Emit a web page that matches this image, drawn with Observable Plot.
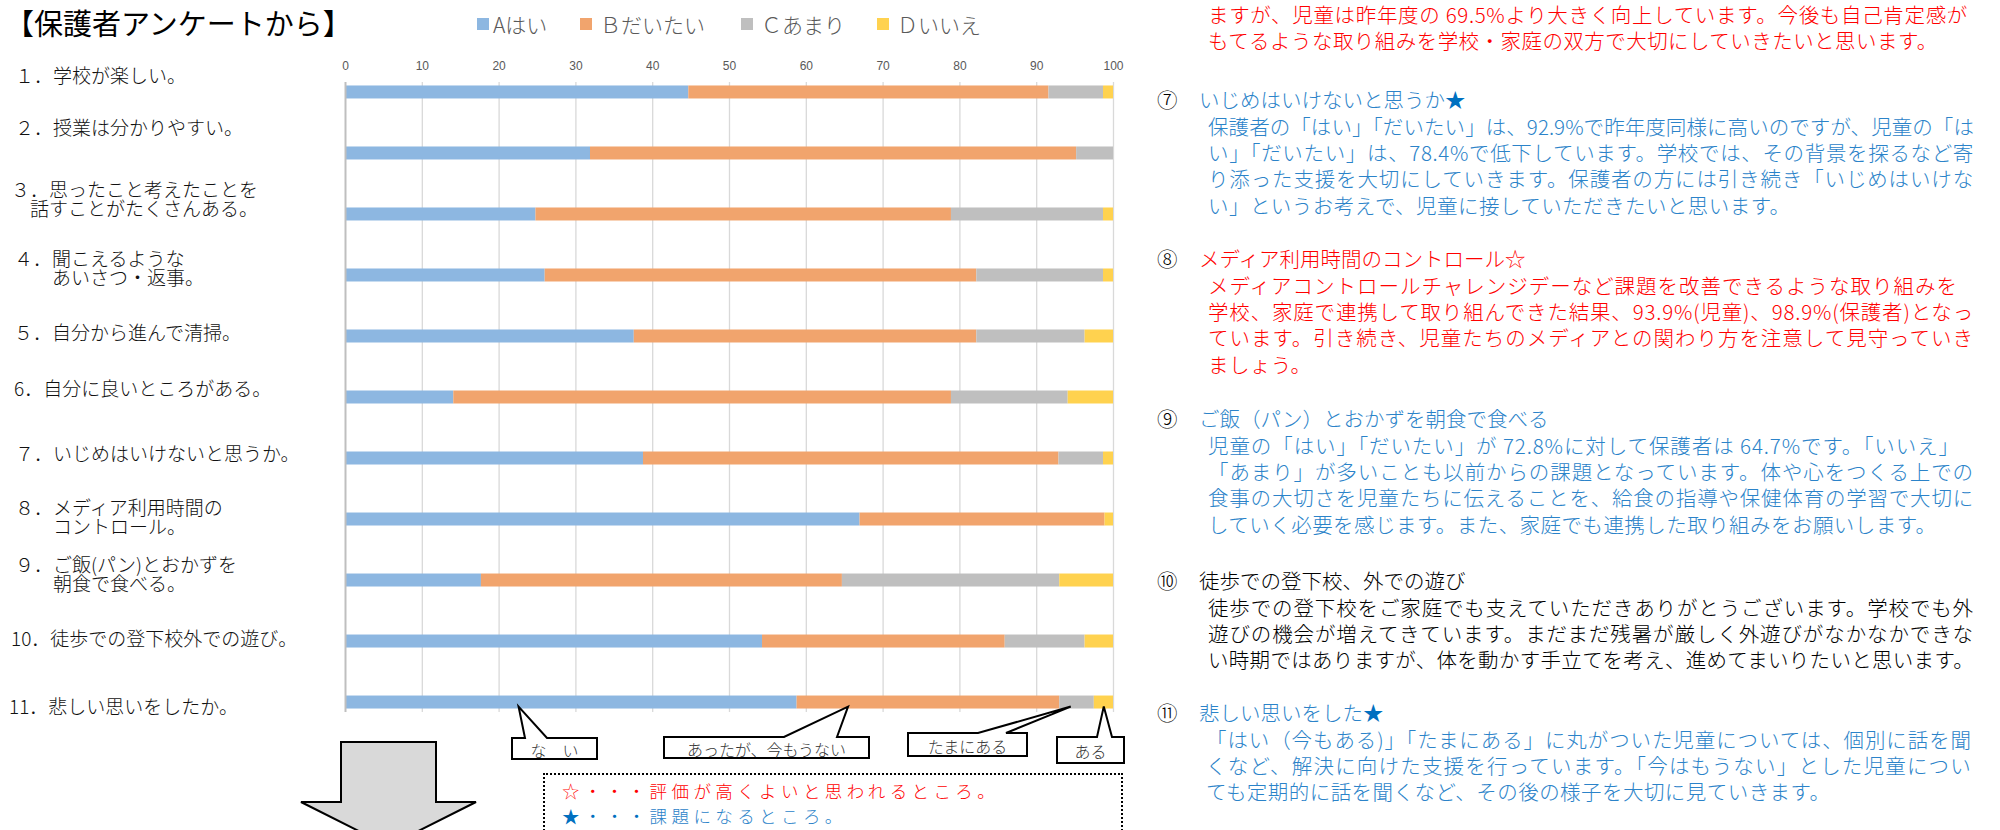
<!DOCTYPE html>
<html lang="ja">
<head>
<meta charset="utf-8">
<script src="https://cdn.jsdelivr.net/npm/d3@7"></script>
<script src="https://cdn.jsdelivr.net/npm/@observablehq/plot@0.6"></script>
<style>
html,body{margin:0;padding:0;background:#fff}
#page{position:relative;width:2000px;height:830px;overflow:hidden;font-family:"Noto Sans CJK JP","Noto Sans",sans-serif;color:#000}
.abs{position:absolute;white-space:nowrap}
#title{left:5px;top:2px;font-size:29px;line-height:40px;font-weight:400}
.legsq{position:absolute;width:12px;height:12px;top:18px}
.legtx{position:absolute;top:11px;font-size:21px;line-height:26px;color:#595959;white-space:nowrap;font-weight:300}
.qlab{position:absolute;font-size:19px;line-height:19px;white-space:pre;color:#111;font-weight:300}
.nl{position:absolute;font-size:20.5px;line-height:25px;height:25px;white-space:nowrap;font-weight:300}
#keybox{position:absolute;left:543px;top:773px;width:580px;height:90px;border:2.5px dotted #000;box-sizing:border-box}
.keyl{position:absolute;left:562px;font-size:17.5px;line-height:20px;height:20px;white-space:nowrap;letter-spacing:4.4px;font-weight:300}
</style>
</head>
<body>
<div id="page"></div>
<script>
// ---------- data ----------
const questions = ["1","2","3","4","5","6","7","8","9","10","11"];
const questionLabels = [
  ["１．学校が楽しい。"],
  ["２．授業は分かりやすい。"],
  ["３．思ったこと考えたことを", "話すことがたくさんある。"],
  ["４．聞こえるような", "あいさつ・返事。"],
  ["５．自分から進んで清掃。"],
  ["6．自分に良いところがある。"],
  ["７．いじめはいけないと思うか。"],
  ["８．メディア利用時間の", "コントロール。"],
  ["９．ご飯(パン)とおかずを", "朝食で食べる。"],
  ["10．徒歩での登下校外での遊び。"],
  ["11．悲しい思いをしたか。"]
];
const seriesNames = ["Aはい", "Ｂだいたい", "Ｃあまり", "Ｄいいえ"];
const seriesColors = ["#8DB7E1", "#F1A46D", "#BFBFBF", "#FFD24F"];
const valuesA = [44.7, 31.9, 24.8, 26.0, 37.6, 14.1, 38.8, 67.0, 17.7, 54.3, 58.8];
const valuesB = [46.9, 63.3, 54.1, 56.2, 44.6, 64.8, 54.1, 31.9, 47.0, 31.6, 34.2];
const valuesC = [7.1, 4.8, 19.8, 16.5, 14.1, 15.2, 5.8, 0, 28.3, 10.4, 4.5];
const valuesD = [1.3, 0, 1.3, 1.3, 3.7, 5.9, 1.3, 1.1, 7.0, 3.7, 2.5];
const xTicks = [0, 10, 20, 30, 40, 50, 60, 70, 80, 90, 100];

const titleText = "【保護者アンケートから】";
const calloutLabels = ["な　い", "あったが、今もうない", "たまにある", "ある"];
const calloutValues = [22.6, 65.5, 94.5, 98.8];   // where each pointer touches bar 11
const keyLines = [["☆・・・", "評価が高くよいと思われるところ。"], ["★・・・", "課題になるところ。"]];

const RED = "#FF0000", BLUE = "#2B83C9", DBLUE = "#0070C0", BLACK = "#000000";
const notes = [
  {mark: "", title: "", star: "", color: RED, lines: [
    "ますが、児童は昨年度の 69.5%より大きく向上しています。今後も自己肯定感が",
    "もてるような取り組みを学校・家庭の双方で大切にしていきたいと思います。"]},
  {mark: "⑦", title: "いじめはいけないと思うか", star: "★", color: BLUE, lines: [
    "保護者の「はい」「だいたい」は、92.9%で昨年度同様に高いのですが、児童の「は",
    "い」「だいたい」は、78.4%で低下しています。学校では、その背景を探るなど寄",
    "り添った支援を大切にしていきます。保護者の方には引き続き「いじめはいけな",
    "い」というお考えで、児童に接していただきたいと思います。"]},
  {mark: "⑧", title: "メディア利用時間のコントロール", star: "☆", color: RED, lines: [
    "メディアコントロールチャレンジデーなど課題を改善できるような取り組みを",
    "学校、家庭で連携して取り組んできた結果、93.9%(児童)、98.9%(保護者)となっ",
    "ています。引き続き、児童たちのメディアとの関わり方を注意して見守っていき",
    "ましょう。"]},
  {mark: "⑨", title: "ご飯（パン）とおかずを朝食で食べる", star: "", color: BLUE, lines: [
    "児童の「はい」「だいたい」が 72.8%に対して保護者は 64.7%です。「いいえ」",
    "「あまり」が多いことも以前からの課題となっています。体や心をつくる上での",
    "食事の大切さを児童たちに伝えることを、給食の指導や保健体育の学習で大切に",
    "していく必要を感じます。また、家庭でも連携した取り組みをお願いします。"]},
  {mark: "⑩", title: "徒歩での登下校、外での遊び", star: "", color: BLACK, lines: [
    "徒歩での登下校をご家庭でも支えていただきありがとうございます。学校でも外",
    "遊びの機会が増えてきています。まだまだ残暑が厳しく外遊びがなかなかできな",
    "い時期ではありますが、体を動かす手立てを考え、進めてまいりたいと思います。"]},
  {mark: "⑪", title: "悲しい思いをした", star: "★", color: BLUE, lines: [
    "「はい（今もある)」「たまにある」に丸がついた児童については、個別に話を聞",
    "くなど、解決に向けた支援を行っています。「今はもうない」とした児童につい",
    "ても定期的に話を聞くなど、その後の様子を大切に見ていきます。"]}
];

// ---------- layout (positions only) ----------
const labelPos = [[15,74],[15,126],[11,188],[14,257],[14,331],[14,387],[15,452],[15,506],[15,563],[11,637],[9,705]];
const labelIndent = [0,0,1,2,0,0,0,2,2,0,0];   // second-line indent in full-width spaces
const legendPos = [[477,493],[580,600],[741,761],[877,897]];
const calloutBoxes = [[512,738,597,759,525,547],[664,737,869,758,784,837],[908,733,1027,756,978,1006],[1057,737,1124,763,1097,1112]];
const noteHeadY = [null, 99, 258, 418, 580, 712];
const noteFirstY = [14, 126, 285, 445, 607, 739];
const noteJustify = [[760,0],[766,766,766,0],[750,766,766,0],[752,766,766,0],[766,766,766],[766,766,0]];
const noteLeft = [1208,1208,1208,1208,1208,1206];
const keyY = [790.5, 816];

const page = document.getElementById("page");
function add(cls, styles, text) {
  const d = document.createElement("div");
  d.className = cls;
  Object.assign(d.style, styles);
  if (text != null) d.textContent = text;
  page.appendChild(d);
  return d;
}

// title
add("abs", {}, titleText).id = "title";

// legend
seriesNames.forEach((s, i) => {
  add("legsq", {left: legendPos[i][0] + "px", background: seriesColors[i]});
  add("legtx", {left: legendPos[i][1] + "px"}, s);
});

// question labels (one text block each)
questionLabels.forEach((lines, i) => {
  const [x, y] = labelPos[i];
  const txt = lines.map((t, j) => (j ? "　".repeat(labelIndent[i]) : "") + t).join("\n");
  add("qlab", {left: x + "px", top: (y - 9.5) + "px"}, txt);
});

// ---------- chart ----------
const rows = [];
questions.forEach((q, i) => {
  [valuesA, valuesB, valuesC, valuesD].forEach((arr, j) => {
    rows.push({q, series: seriesNames[j], value: arr[i]});
  });
});

const svgTop = 40;
const chart = Plot.plot({
  width: 1125,
  height: 680,
  marginLeft: 345,
  marginRight: 12,
  marginTop: 42,
  marginBottom: 8,
  style: {fontFamily: '"Liberation Sans Narrow","Liberation Sans",sans-serif', fontSize: "12px", color: "#595959", background: "transparent", overflow: "visible"},
  x: {domain: [0, 100], axis: "top", ticks: xTicks, tickSize: 0, tickPadding: 13, label: null},
  y: {domain: questions, axis: null, paddingInner: 0.787, paddingOuter: 0.057, round: false},
  color: {domain: seriesNames, range: seriesColors},
  marks: [
    Plot.ruleX(xTicks.slice(1), {stroke: "#D9D9D9", strokeWidth: 1.3}),
    Plot.barX(rows, {x: "value", y: "q", fill: "series", order: seriesNames}),
    Plot.ruleX([0], {stroke: "#BFBFBF", strokeWidth: 2})
  ]
});
chart.style.position = "absolute";
chart.style.left = "0px";
chart.style.top = svgTop + "px";
page.appendChild(chart);

// ---------- annotations overlay ----------
const sx = chart.scale("x"), sy = chart.scale("y");
const lastQ = questions[questions.length - 1];
const barTopAbs = sy.apply(lastQ) + svgTop;
const bw = sy.bandwidth;
const tipY = barTopAbs + bw * 0.85;

const ov = d3.create("svg").attr("width", 2000).attr("height", 830)
  .style("position", "absolute").style("left", "0px").style("top", "0px").style("overflow", "visible");

// big down arrow
ov.append("path")
  .attr("d", "M341,742 L436,742 L436,802 L476,802 L388.5,846 L301,802 L341,802 Z")
  .attr("fill", "#D9D9D9").attr("stroke", "#000").attr("stroke-width", 2).attr("stroke-linejoin", "miter");

// callouts
calloutLabels.forEach((t, i) => {
  const [x0, y0, x1, y1, b0, b1] = calloutBoxes[i];
  const tx = sx.apply(calloutValues[i]);
  ov.append("path")
    .attr("d", `M${x0},${y0} L${b0},${y0} L${tx},${tipY} L${b1},${y0} L${x1},${y0} L${x1},${y1} L${x0},${y1} Z`)
    .attr("fill", "#fff").attr("stroke", "#000").attr("stroke-width", 2).attr("stroke-linejoin", "miter");
  ov.append("text")
    .attr("x", (x0 + x1) / 2).attr("y", (y0 + y1) / 2 + 1)
    .attr("text-anchor", "middle").attr("dominant-baseline", "central")
    .attr("font-family", '"Noto Sans CJK JP",sans-serif').attr("font-weight", 300)
    .attr("font-size", 16).attr("fill", "#333").text(t);
});
page.appendChild(ov.node());

// key box
add("", {}, null).id = "keybox";
keyLines.forEach((parts, i) => {
  const d = add("keyl", {top: (keyY[i] - 10) + "px"});
  const a = document.createElement("span");
  a.textContent = parts[0];
  a.style.color = i === 0 ? RED : DBLUE;
  const b = document.createElement("span");
  b.textContent = parts[1];
  b.style.color = i === 0 ? RED : BLUE;
  d.appendChild(a); d.appendChild(b);
});

// ---------- notes (right column) ----------
const justified = [];
notes.forEach((n, k) => {
  if (n.mark) {
    const hy = noteHeadY[k];
    add("nl", {left: "1157px", top: (hy - 12.5) + "px", color: "#000"}, n.mark);
    const h = add("nl", {left: "1199px", top: (hy - 12.5) + "px", color: n.color}, n.title);
    if (n.star) {
      const s = document.createElement("span");
      s.textContent = n.star;
      s.style.color = n.star === "★" ? DBLUE : n.color;
      h.appendChild(s);
    }
  }
  n.lines.forEach((t, i) => {
    const y = noteFirstY[k] + i * 26.4;
    const d = add("nl", {left: noteLeft[k] + "px", top: (y - 12.5) + "px", color: n.color, letterSpacing: "0.45px"}, t);
    const w = noteJustify[k][i];
    if (w) justified.push([d, w]);
  });
});

function fit() {
  justified.forEach(([d, w]) => {
    d.style.letterSpacing = "0px";
    const nat = d.getBoundingClientRect().width;
    const n = [...d.textContent].length;
    d.style.letterSpacing = ((w - nat) / n) + "px";
  });
}
fit();
if (document.fonts && document.fonts.ready) document.fonts.ready.then(fit);
</script>
</body>
</html>
